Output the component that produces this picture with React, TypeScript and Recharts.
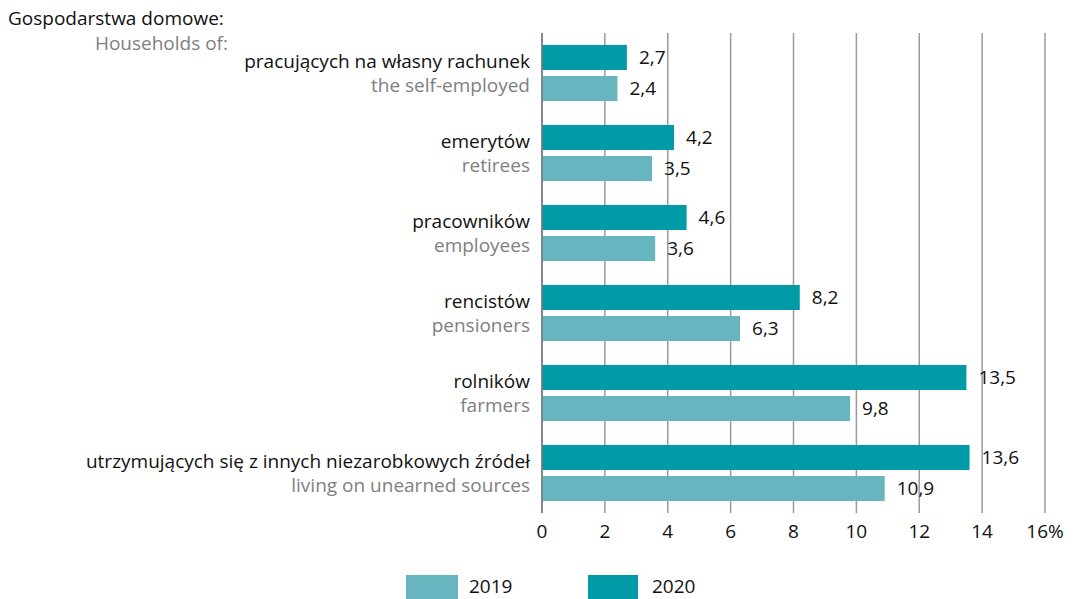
import React from 'react';
import { BarChart, Bar, XAxis, YAxis, CartesianGrid, LabelList } from 'recharts';

const categoriesPl = [
  'pracujących na własny rachunek',
  'emerytów',
  'pracowników',
  'rencistów',
  'rolników',
  'utrzymujących się z innych niezarobkowych źródeł',
];
const categoriesEn = [
  'the self-employed',
  'retirees',
  'employees',
  'pensioners',
  'farmers',
  'living on unearned sources',
];
const values2020 = [2.7, 4.2, 4.6, 8.2, 13.5, 13.6];
const values2019 = [2.4, 3.5, 3.6, 6.3, 9.8, 10.9];
const xTicks = [0, 2, 4, 6, 8, 10, 12, 14, 16];

const C2020 = '#009ba7';
const C2019 = '#67b5bf';
const FONT = '"Open Sans", sans-serif';
const FS = 19;

const data = categoriesPl.map((pl, i) => ({
  pl,
  en: categoriesEn[i],
  y2020: values2020[i],
  y2019: values2019[i],
}));

const CategoryTick = (props: any) => {
  const { x, y, payload } = props;
  const row = data[payload.index] ?? data.find((d) => d.pl === payload.value);
  return (
    <g>
      <text x={x - 4} y={y - 5} textAnchor="end" fontSize={FS} fill="#111" fontFamily={FONT}>
        {payload.value}
      </text>
      <text x={x - 4} y={y + 19} textAnchor="end" fontSize={FS} fill="#808080" fontFamily={FONT}>
        {row ? row.en : ''}
      </text>
    </g>
  );
};

const PercentTick = (props: any) => {
  const { x, y, payload } = props;
  return (
    <text x={x} y={y + 17} textAnchor="middle" fontSize={FS} fill="#111" fontFamily={FONT}>
      {payload.value === 16 ? '16%' : payload.value}
    </text>
  );
};

const fmt = (v: any) => String(v).replace('.', ',');

export default function App() {
  const txt = { position: 'absolute' as const, fontFamily: FONT, fontSize: FS, color: '#111', lineHeight: '24px' };
  return (
    <div style={{ position: 'absolute', left: 0, top: 0, width: 1074, height: 599, background: '#fff', overflow: 'hidden' }}>
      <div style={{ ...txt, left: 8, top: 6 }}>Gospodarstwa domowe:</div>
      <div style={{ ...txt, right: 1074 - 228, top: 31, color: '#808080' }}>Households of:</div>
      <BarChart
        width={1074}
        height={599}
        data={data}
        layout="vertical"
        margin={{ top: 33, right: 29, left: 0, bottom: 56 }}
        barCategoryGap="15%"
        barGap={6}
      >
        <CartesianGrid horizontal={false} vertical stroke="#9a9a9a" strokeWidth={1.5} />
        <XAxis
          type="number"
          domain={[0, 16]}
          ticks={xTicks}
          axisLine={false}
          tickLine={false}
          height={30}
          tick={<PercentTick />}
          interval={0}
        />
        <YAxis
          type="category"
          dataKey="pl"
          width={542}
          axisLine={{ stroke: '#777', strokeWidth: 1.5 }}
          tickLine={false}
          tick={<CategoryTick />}
          interval={0}
        />
        <Bar dataKey="y2020" name="2020" fill={C2020} barSize={25} isAnimationActive={false}>
          <LabelList dataKey="y2020" position="right" offset={12} formatter={fmt} fill="#111" fontSize={FS} fontFamily={FONT} />
        </Bar>
        <Bar dataKey="y2019" name="2019" fill={C2019} barSize={25} isAnimationActive={false}>
          <LabelList dataKey="y2019" position="right" offset={12} formatter={fmt} fill="#111" fontSize={FS} fontFamily={FONT} />
        </Bar>
      </BarChart>
      <div style={{ position: 'absolute', left: 406, top: 575, width: 52, height: 26, background: C2019 }} />
      <div style={{ ...txt, left: 469, top: 574 }}>2019</div>
      <div style={{ position: 'absolute', left: 588, top: 575, width: 50, height: 26, background: C2020 }} />
      <div style={{ ...txt, left: 652, top: 574 }}>2020</div>
    </div>
  );
}
